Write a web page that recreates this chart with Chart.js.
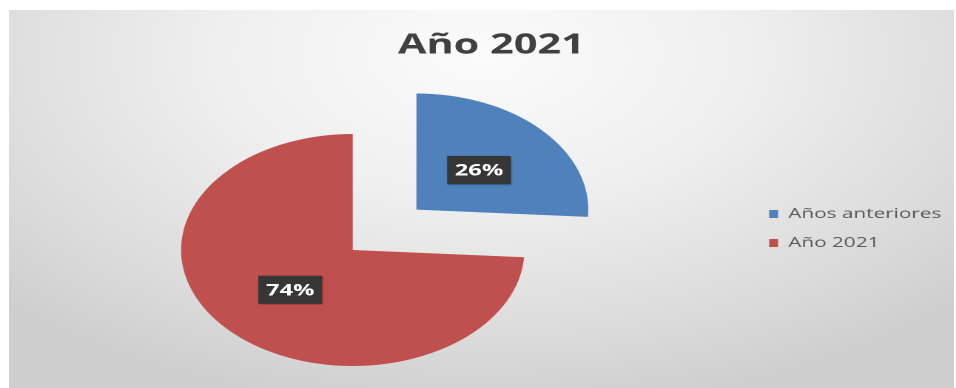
<!DOCTYPE html>
<html>
<head>
<meta charset="utf-8">
<script src="https://cdn.jsdelivr.net/npm/chart.js@4"></script>
<style>
  html, body { margin: 0; padding: 0; background: #fff; }
  #wrap { position: relative; width: 956px; height: 388px; overflow: hidden; }
  #panel {
    position: absolute; left: 9px; top: 10px; width: 945px; height: 378px;
    background: radial-gradient(ellipse 70% 95% at 50% 12%, #fbfbfb 0%, #efefef 40%, #dadada 80%, #cecece 100%);
  }
  /* the workbook chart was pasted in wider than tall, so stretch it the same way */
  #share { position: absolute; left: 0; top: 0; transform-origin: 0 0; transform: scaleX(1.48); }
</style>
</head>
<body>
<div id="wrap">
  <div id="panel"></div>
  <canvas id="share" width="646" height="388"></canvas>
</div>
<script>
const labels = ['Años anteriores', 'Año 2021'];
const shares = [26, 74];

// only the blue slice is pulled out, so move the plot area to keep the red one in place
const plotShift = {
  id: 'plotShift',
  afterLayout(chart) {
    const a = chart.chartArea;
    a.left -= 23; a.right -= 23;
    a.top += 21.5; a.bottom += 21.5;
  }
};

// dark percentage tags in the middle of each slice
const pctLabels = {
  id: 'pctLabels',
  afterDatasetsDraw(chart) {
    const ctx = chart.ctx;
    const meta = chart.getDatasetMeta(0);
    ctx.save();
    ctx.font = 'bold 16px "Open Sans"';
    ctx.textAlign = 'center';
    ctx.textBaseline = 'middle';
    meta.data.forEach((arc, i) => {
      const p = arc.getProps(['x', 'y', 'startAngle', 'endAngle', 'outerRadius']);
      const mid = (p.startAngle + p.endAngle) / 2;
      const d = (arc.options.offset || 0) / 4 + p.outerRadius / 2;
      const x = p.x + Math.cos(mid) * d;
      const y = p.y + Math.sin(mid) * d;
      const w = 43, h = 28;
      ctx.shadowColor = 'rgba(0,0,0,0.45)';
      ctx.shadowBlur = 3;
      ctx.shadowOffsetX = 1;
      ctx.shadowOffsetY = 2;
      ctx.fillStyle = '#363636';
      ctx.fillRect(x - w / 2, y - h / 2, w, h);
      ctx.shadowColor = 'transparent';
      ctx.fillStyle = '#ffffff';
      ctx.fillText(shares[i] + '%', x, y + 1);
    });
    ctx.restore();
  }
};

new Chart(document.getElementById('share'), {
  type: 'pie',
  data: {
    labels: labels,
    datasets: [{
      data: shares,
      backgroundColor: ['#4f81bd', '#c0504d'],
      borderWidth: 0,
      offset: [236, 0],
      radius: 116
    }]
  },
  options: {
    responsive: false,
    devicePixelRatio: 2,
    animation: false,
    events: [],
    layout: { padding: { top: 10, left: 18, right: 0, bottom: 0 } },
    plugins: {
      title: {
        display: true,
        text: 'Año 2021',
        color: '#404040',
        font: { family: '"Open Sans"', size: 28, weight: 'bold' },
        padding: { top: 18.7, bottom: 6.7 }
      },
      legend: {
        position: 'right',
        fullSize: false,
        labels: {
          color: '#595959',
          font: { family: '"Open Sans"', size: 14 },
          boxWidth: 6,
          boxHeight: 8,
          padding: 15
        }
      },
      tooltip: { enabled: false }
    }
  },
  plugins: [plotShift, pctLabels]
});
</script>
</body>
</html>
